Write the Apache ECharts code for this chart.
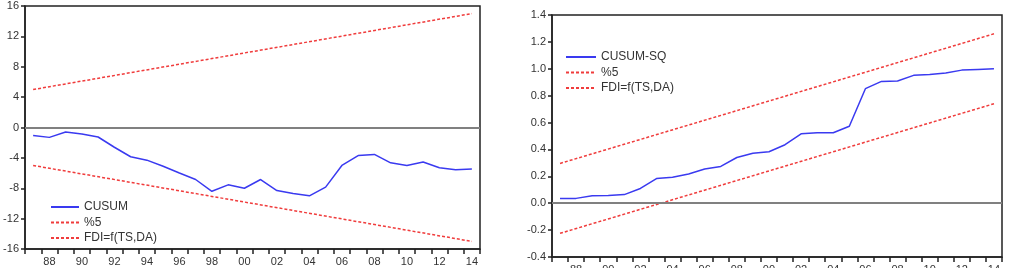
<!DOCTYPE html>
<html>
<head>
<meta charset="utf-8">
<script src="https://cdn.jsdelivr.net/npm/echarts@6/dist/echarts.min.js"></script>
<style>
  html, body { margin: 0; padding: 0; background: #fff; }
  #chart { width: 1009px; height: 268px; }
</style>
</head>
<body>
<div id="chart"></div>
<script>
// years on the x axis (both panels)
const years = ['1987', '1988', '1989', '1990', '1991', '1992', '1993', '1994', '1995', '1996',
  '1997', '1998', '1999', '2000', '2001', '2002', '2003', '2004', '2005', '2006',
  '2007', '2008', '2009', '2010', '2011', '2012', '2013', '2014']

// left panel: CUSUM and its 5% bounds (straight lines, end points)
const cusum = [-1.05, -1.3, -0.6, -0.85, -1.25, -2.6, -3.85, -4.3, -5.1, -6.0,
  -6.85, -8.4, -7.55, -8.0, -6.85, -8.3, -8.7, -9.0, -7.85, -5.0,
  -3.7, -3.55, -4.65, -5.0, -4.55, -5.3, -5.55, -5.45]
const cusumUpper = [['1987', 5], ['2014', 15]]
const cusumLower = [['1987', -5], ['2014', -15]]

// right panel: CUSUM of squares and its 5% bounds
const cusumSq = [0.035, 0.036, 0.055, 0.057, 0.064, 0.11, 0.183, 0.193, 0.218, 0.255,
  0.274, 0.34, 0.372, 0.383, 0.435, 0.516, 0.524, 0.524, 0.573, 0.852,
  0.906, 0.909, 0.951, 0.958, 0.968, 0.99, 0.995, 1.0]
const sqUpper = [['1987', 0.296], ['2014', 1.26]]
const sqLower = [['1987', -0.224], ['2014', 0.74]]

const chart = echarts.init(document.getElementById('chart'))

const font = 'Liberation Sans, Arial, sans-serif'
const blue = '#3a3af0'
const red = '#f03c3c'

function xAxisFor (gridIndex) {
  return {
    type: 'category',
    gridIndex: gridIndex,
    data: years,
    boundaryGap: true,
    axisLine: { onZero: false, lineStyle: { color: '#222', width: 1.5 } },
    axisTick: { show: true, interval: 0, length: 5, inside: false, lineStyle: { color: '#222', width: 1.5 } },
    axisLabel: {
      interval: function (index) { return index % 2 === 1 },
      formatter: function (v) { return v.slice(2) },
      color: '#333',
      fontFamily: font,
      fontSize: 11,
      margin: 7
    },
    splitLine: { show: false }
  }
}

function yAxisFor (gridIndex, min, max, interval, digits) {
  return {
    type: 'value',
    gridIndex: gridIndex,
    min: min,
    max: max,
    interval: interval,
    axisLine: { show: true, lineStyle: { color: '#222', width: 1.5 } },
    axisTick: { show: true, length: 4, lineStyle: { color: '#222', width: 1.5 } },
    axisLabel: {
      color: '#333',
      fontFamily: font,
      fontSize: 11,
      margin: 6,
      formatter: function (v) { return v.toFixed(digits) }
    },
    splitLine: { show: false }
  }
}

function boundSeries (name, data, axisIndex) {
  return {
    name: name,
    type: 'line',
    xAxisIndex: axisIndex,
    yAxisIndex: axisIndex,
    data: data,
    symbol: 'none',
    silent: true,
    lineStyle: { color: red, width: 1.5, type: [3, 2] },
    itemStyle: { color: red }
  }
}

const zeroLine = {
  silent: true,
  symbol: 'none',
  label: { show: false },
  lineStyle: { color: '#808080', width: 2, type: 'solid' },
  data: [{ yAxis: 0 }]
}

const legendBase = {
  orient: 'vertical',
  itemHeight: 10,
  itemGap: 3.5,
  itemStyle: { opacity: 0 },
  textStyle: { fontFamily: font, fontSize: 12, color: '#333' }
}

const option = {
  animation: false,
  grid: [
    { left: 25, right: 529, top: 6, bottom: 19, outerBoundsMode: 'none', show: true, borderColor: '#222', borderWidth: 1.5 },
    { left: 552, right: 7, top: 15, bottom: 11, outerBoundsMode: 'none', show: true, borderColor: '#222', borderWidth: 1.5 }
  ],
  legend: [
    Object.assign({}, legendBase, {
      left: 45,
      top: 196,
      itemWidth: 28,
      data: ['CUSUM', '%5', 'FDI=f(TS,DA)']
    }),
    Object.assign({}, legendBase, {
      left: 560,
      top: 46,
      itemWidth: 30,
      data: ['CUSUM-SQ', '%5', 'FDI=f(TS,DA)']
    })
  ],
  xAxis: [xAxisFor(0), xAxisFor(1)],
  yAxis: [yAxisFor(0, -16, 16, 4, 0), yAxisFor(1, -0.4, 1.4, 0.2, 1)],
  series: [
    {
      name: 'CUSUM',
      type: 'line',
      xAxisIndex: 0,
      yAxisIndex: 0,
      data: cusum,
      symbol: 'none',
      lineStyle: { color: blue, width: 1.5 },
      itemStyle: { color: blue },
      markLine: zeroLine
    },
    boundSeries('%5', cusumUpper, 0),
    boundSeries('FDI=f(TS,DA)', cusumLower, 0),
    {
      name: 'CUSUM-SQ',
      type: 'line',
      xAxisIndex: 1,
      yAxisIndex: 1,
      data: cusumSq,
      symbol: 'none',
      lineStyle: { color: blue, width: 1.5 },
      itemStyle: { color: blue },
      markLine: zeroLine
    },
    boundSeries('%5', sqUpper, 1),
    boundSeries('FDI=f(TS,DA)', sqLower, 1)
  ]
}

chart.setOption(option)
</script>
</body>
</html>
